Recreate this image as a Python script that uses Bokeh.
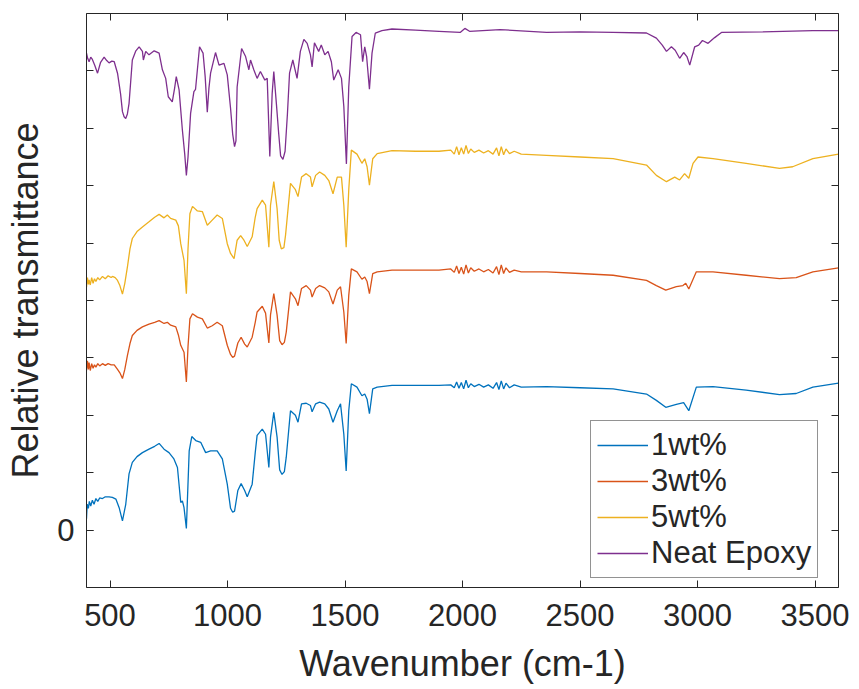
from bokeh.plotting import figure
from bokeh.models import LinearAxis, FixedTicker, Range1d, Legend, LegendItem
from bokeh.embed import file_html
from bokeh.resources import INLINE

# ---------------- data ----------------
series_names = ["1wt%", "3wt%", "5wt%", "Neat Epoxy"]
x_ticks = [500, 1000, 1500, 2000, 2500, 3000, 3500]
y_ticks = [-1, 0, 1, 2, 3, 4, 5, 6, 7, 8, 9]
y_labelled = [0]

wn_1wt = [400, 403, 408, 412, 418, 425, 432, 440, 448, 456, 468, 480, 496, 510, 525, 539, 553, 567, 581, 595,
          615, 638, 666, 690, 709, 730, 751, 772, 787, 801, 808, 815, 825, 837, 848, 865, 886, 907, 928, 956,
          978, 999, 1013, 1022, 1030, 1044, 1058, 1073, 1084, 1105, 1118, 1126, 1148, 1162, 1176, 1183, 1197, 1211,
          1222, 1232, 1242, 1250, 1268, 1289, 1300, 1315, 1335, 1353, 1360, 1375, 1392, 1414, 1431, 1449, 1467,
          1481, 1495, 1505, 1516, 1527, 1551, 1572, 1584, 1594, 1604, 1618, 1637, 1700, 1800, 1900, 1950, 1965,
          1975, 1985, 1995, 2005, 2015, 2025, 2035, 2050, 2070, 2090, 2110, 2130, 2145, 2155, 2165, 2175, 2185,
          2200, 2220, 2250, 2358, 2500, 2641, 2783, 2825, 2865, 2910, 2941, 2963, 2995, 3066, 3207, 3349, 3420,
          3491, 3600]
tr_1wt = [0.20, 0.45, 0.38, 0.50, 0.42, 0.52, 0.45, 0.55, 0.50, 0.56, 0.55, 0.58, 0.58, 0.57, 0.54, 0.39, 0.16, 0.45, 0.98, 1.18,
          1.28, 1.35, 1.41, 1.46, 1.51, 1.41, 1.35, 1.24, 1.09, 0.48, 0.51, 0.39, 0.03, 1.38, 1.63, 1.56, 1.53, 1.35, 1.38, 1.38,
          1.24, 0.80, 0.38, 0.31, 0.33, 0.69, 0.81, 0.69, 0.58, 0.80, 1.35, 1.65, 1.76, 1.67, 1.09, 1.62, 2.05, 1.62,
          1.05, 0.97, 1.02, 1.27, 2.08, 2.00, 1.88, 2.20, 2.21, 2.17, 2.06, 2.20, 2.23, 2.20, 2.11, 1.88, 2.08,
          2.20, 1.67, 1.03, 2.08, 2.55, 2.49, 2.34, 2.37, 2.28, 2.03, 2.46, 2.49, 2.52, 2.52, 2.52, 2.53, 2.48,
          2.58, 2.47, 2.57, 2.46, 2.61, 2.48, 2.55, 2.50, 2.54, 2.49, 2.53, 2.47, 2.57, 2.45, 2.60, 2.46, 2.56,
          2.48, 2.53, 2.49, 2.50, 2.48, 2.46, 2.37, 2.26, 2.14, 2.19, 2.22, 2.08, 2.49, 2.50, 2.44, 2.36, 2.38,
          2.49, 2.56]

wn_3wt = [400, 404, 408, 411, 416, 422, 428, 434, 440, 448, 456, 468, 480, 492, 505, 518, 532, 542, 553, 563,
          574, 585, 595, 615, 638, 666, 690, 709, 730, 744, 758, 780, 791, 801, 815, 825, 832, 840, 851, 872,
          893, 914, 935, 956, 978, 999, 1013, 1022, 1030, 1044, 1058, 1073, 1084, 1105, 1118, 1126, 1148, 1162,
          1176, 1183, 1197, 1211, 1222, 1232, 1242, 1250, 1268, 1289, 1300, 1315, 1335, 1353, 1360, 1375, 1392,
          1414, 1431, 1449, 1467, 1481, 1495, 1505, 1516, 1527, 1551, 1572, 1584, 1594, 1604, 1618, 1637, 1700,
          1800, 1900, 1950, 1965, 1975, 1985, 1995, 2005, 2015, 2025, 2035, 2050, 2070, 2090, 2110, 2130, 2145,
          2155, 2165, 2175, 2185, 2200, 2220, 2250, 2358, 2500, 2641, 2783, 2825, 2865, 2910, 2938, 2950, 2963,
          2995, 3066, 3207, 3349, 3420, 3491, 3600]
tr_3wt = [2.78, 2.95, 2.80, 2.92, 2.78, 2.90, 2.82, 2.88, 2.84, 2.90, 2.86, 2.90, 2.87, 2.90, 2.88, 2.88, 2.80, 2.74, 2.64, 2.80,
          3.04, 3.25, 3.39, 3.48, 3.54, 3.59, 3.62, 3.65, 3.60, 3.62, 3.57, 3.54, 3.40, 3.22, 3.10, 2.58, 3.20, 3.68, 3.77, 3.71,
          3.68, 3.52, 3.56, 3.62, 3.56, 3.22, 3.06, 3.01, 3.03, 3.26, 3.36, 3.24, 3.19, 3.36, 3.62, 3.80, 3.90, 3.78,
          3.26, 3.75, 4.12, 3.75, 3.30, 3.23, 3.27, 3.45, 4.15, 4.03, 3.91, 4.21, 4.26, 4.18, 4.06, 4.21, 4.26,
          4.22, 4.15, 3.94, 4.18, 4.24, 3.80, 3.25, 4.09, 4.55, 4.50, 4.37, 4.41, 4.33, 4.12, 4.47, 4.50, 4.53,
          4.53, 4.53, 4.55, 4.49, 4.60, 4.47, 4.58, 4.46, 4.62, 4.48, 4.57, 4.51, 4.55, 4.50, 4.54, 4.48, 4.59,
          4.45, 4.62, 4.47, 4.57, 4.49, 4.53, 4.50, 4.50, 4.47, 4.44, 4.35, 4.26, 4.18, 4.24, 4.26, 4.30, 4.20,
          4.50, 4.50, 4.44, 4.38, 4.40, 4.50, 4.57]

wn_5wt = [400, 404, 408, 411, 416, 422, 428, 434, 440, 448, 456, 468, 480, 492, 505, 511, 522, 532, 542, 553,
          563, 574, 585, 595, 615, 638, 666, 690, 709, 730, 744, 758, 780, 791, 801, 815, 825, 832, 840, 851,
          872, 893, 914, 935, 956, 978, 999, 1013, 1028, 1041, 1056, 1070, 1084, 1105, 1118, 1126, 1148, 1162, 1176,
          1183, 1197, 1211, 1220, 1229, 1240, 1247, 1268, 1289, 1300, 1315, 1335, 1353, 1360, 1375, 1392, 1414,
          1431, 1449, 1467, 1485, 1495, 1505, 1516, 1527, 1551, 1572, 1584, 1594, 1604, 1618, 1637, 1700, 1800,
          1900, 1950, 1965, 1975, 1985, 1995, 2005, 2015, 2025, 2035, 2050, 2070, 2090, 2110, 2130, 2145, 2155,
          2165, 2175, 2185, 2200, 2220, 2250, 2358, 2500, 2641, 2783, 2825, 2868, 2903, 2924, 2945, 2963, 2981,
          3002, 3066, 3207, 3349, 3405, 3491, 3600]
tr_5wt = [4.23, 4.40, 4.28, 4.36, 4.27, 4.40, 4.30, 4.38, 4.33, 4.40, 4.36, 4.42, 4.38, 4.43, 4.40, 4.42, 4.40, 4.35, 4.26, 4.11,
          4.30, 4.58, 4.90, 5.08, 5.20, 5.28, 5.37, 5.45, 5.50, 5.44, 5.49, 5.43, 5.40, 5.30, 4.99, 4.70, 4.12, 4.90, 5.51, 5.64,
          5.56, 5.55, 5.31, 5.40, 5.49, 5.43, 4.99, 4.82, 4.73, 5.05, 5.13, 5.05, 4.94, 5.11, 5.45, 5.60, 5.75, 5.66, 4.93,
          5.66, 6.07, 5.60, 5.05, 4.90, 4.92, 5.14, 6.04, 5.93, 5.81, 6.15, 6.21, 6.15, 5.98, 6.18, 6.24, 6.18,
          6.09, 5.86, 6.15, 6.15, 5.66, 4.93, 5.93, 6.62, 6.55, 6.39, 6.47, 6.33, 6.01, 6.47, 6.56, 6.61, 6.60,
          6.60, 6.62, 6.55, 6.68, 6.54, 6.66, 6.55, 6.70, 6.56, 6.64, 6.58, 6.62, 6.57, 6.61, 6.55, 6.66, 6.52,
          6.68, 6.54, 6.64, 6.56, 6.60, 6.55, 6.53, 6.50, 6.47, 6.36, 6.18, 6.07, 6.15, 6.10, 6.21, 6.13, 6.39,
          6.50, 6.47, 6.39, 6.30, 6.33, 6.47, 6.55]

wn_neat = [400, 405, 411, 418, 425, 435, 447, 460, 475, 486, 496, 508, 518, 532, 545, 553, 560, 567, 574, 581,
           595, 610, 624, 638, 642, 652, 666, 688, 709, 723, 737, 748, 765, 775, 782, 794, 808, 818, 825, 832,
           843, 857, 864, 881, 896, 905, 914, 921, 928, 949, 964, 985, 999, 1013, 1022, 1030, 1036, 1041, 1060, 1077,
           1091, 1098, 1112, 1126, 1140, 1159, 1169, 1180, 1190, 1197, 1208, 1218, 1226, 1236, 1245, 1255, 1264,
           1278, 1296, 1310, 1325, 1339, 1353, 1360, 1370, 1388, 1399, 1414, 1428, 1442, 1452, 1471, 1485, 1495,
           1506, 1516, 1530, 1547, 1566, 1575, 1584, 1592, 1604, 1615, 1629, 1657, 1700, 1800, 1900, 1990, 2010,
           2030, 2160, 2358, 2500, 2641, 2783, 2825, 2850, 2868, 2889, 2905, 2924, 2941, 2955, 2967, 2988, 3005,
           3021, 3045, 3073, 3102, 3278, 3491, 3600]
tr_neat = [8.31, 8.22, 8.16, 8.24, 8.20, 8.10, 7.96, 8.15, 8.24, 8.18, 8.14, 8.17, 8.16, 7.96, 7.60, 7.29, 7.20, 7.17, 7.25, 7.43,
           8.19, 8.35, 8.42, 8.34, 8.19, 8.34, 8.28, 8.35, 8.31, 8.02, 7.87, 7.55, 7.46, 7.70, 7.90, 7.67, 6.97, 6.55, 6.18, 6.50,
           7.26, 7.64, 7.68, 8.42, 8.31, 7.90, 7.28, 7.70, 7.96, 8.32, 8.10, 8.13, 7.93, 7.35, 6.90, 6.68, 6.78, 7.72, 8.39, 8.25,
           8.02, 8.19, 8.02, 7.87, 7.99, 7.84, 7.87, 6.51, 7.60, 7.99, 7.43, 6.90, 6.52, 6.46, 6.60, 7.25, 7.96,
           8.19, 7.87, 8.34, 8.55, 8.48, 8.28, 8.07, 8.49, 8.34, 8.45, 8.28, 8.34, 8.16, 7.84, 8.02, 7.87, 7.38,
           6.38, 7.72, 8.60, 8.67, 8.63, 8.16, 8.42, 8.25, 7.68, 8.31, 8.66, 8.70, 8.73, 8.71, 8.69, 8.67, 8.74,
           8.69, 8.72, 8.67, 8.68, 8.67, 8.66, 8.57, 8.45, 8.34, 8.42, 8.36, 8.22, 8.32, 8.25, 8.10, 8.42, 8.45,
           8.53, 8.48, 8.58, 8.67, 8.68, 8.70, 8.70]

colors = ["#0072BD", "#D95319", "#EDB120", "#7E2F8E"]

# ---------------- figure ----------------
FONT = "Liberation Sans"
TXT = "#262626"

p = figure(width=859, height=689, output_backend="svg", toolbar_location=None,
           x_range=Range1d(400, 3600), y_range=Range1d(-1, 9),
           min_border_left=86, min_border_right=21, min_border_top=13, min_border_bottom=102)
p.grid.visible = False
p.outline_line_color = None
p.background_fill_color = "white"
p.border_fill_color = "white"

renderers = []
for wn, tr, c in zip([wn_1wt, wn_3wt, wn_5wt, wn_neat], [tr_1wt, tr_3wt, tr_5wt, tr_neat], colors):
    renderers.append(p.line(wn, tr, line_color=c, line_width=1.3))


def style_axis(ax):
    ax.axis_line_color = TXT
    ax.axis_line_width = 1
    ax.major_tick_line_color = TXT
    ax.minor_tick_line_color = TXT
    ax.major_tick_in = 7
    ax.major_tick_out = 0
    ax.minor_tick_in = 7
    ax.minor_tick_out = 0
    ax.major_label_text_font = FONT
    ax.major_label_text_color = TXT


xa = p.xaxis[0]
xa.ticker = FixedTicker(ticks=x_ticks)
style_axis(xa)
xa.major_label_text_font_size = "31px"
xa.major_label_standoff = 16
xa.axis_label = "Wavenumber (cm-1)"
xa.axis_label_text_font = FONT
xa.axis_label_text_font_size = "36px"
xa.axis_label_text_font_style = "normal"
xa.axis_label_text_color = TXT
xa.axis_label_standoff = 14

ya = p.yaxis[0]
ya.ticker = FixedTicker(ticks=y_labelled, minor_ticks=y_ticks)
style_axis(ya)
ya.major_label_text_font_size = "31px"
ya.major_label_standoff = 12
ya.axis_label = "Relative transmittance"
ya.axis_label_text_font = FONT
ya.axis_label_text_font_size = "36px"
ya.axis_label_text_font_style = "normal"
ya.axis_label_text_color = TXT
ya.axis_label_standoff = 8

top = LinearAxis(ticker=FixedTicker(ticks=[], minor_ticks=x_ticks))
style_axis(top)
p.add_layout(top, "above")
right = LinearAxis(ticker=FixedTicker(ticks=[], minor_ticks=y_ticks))
style_axis(right)
p.add_layout(right, "right")

legend = Legend(items=[LegendItem(label=n, renderers=[r]) for n, r in zip(series_names, renderers)],
                location=(504, 9))
legend.label_text_font = FONT
legend.label_text_font_size = "31px"
legend.label_text_color = TXT
legend.label_height = 34
legend.glyph_height = 34
legend.glyph_width = 51
legend.label_standoff = 3
legend.spacing = 0
legend.padding = 6
legend.margin = 0
legend.border_line_color = TXT
legend.border_line_width = 1
legend.background_fill_alpha = 1
p.add_layout(legend)

open("out.html", "w").write(file_html(p, INLINE))
